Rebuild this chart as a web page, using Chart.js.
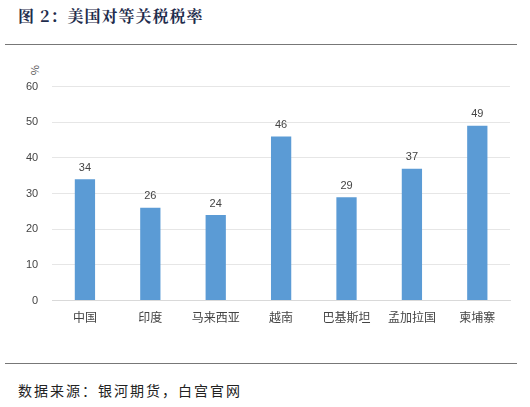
<!DOCTYPE html>
<html><head><meta charset="utf-8">
<script src="https://cdn.jsdelivr.net/npm/chart.js@4"></script>
<style>
body{margin:0;width:530px;height:407px;background:#fff;position:relative;overflow:hidden;font-family:"Noto Sans CJK SC",sans-serif}
#title{position:absolute;left:18px;top:4px;font-size:16px;font-weight:bold;color:#1f2d4d;font-family:"Noto Serif CJK SC","Noto Sans CJK SC",serif;letter-spacing:1px}
.rule{position:absolute;left:5px;width:512px;height:1px;background:#777}
#src{position:absolute;left:18px;top:380px;font-size:14px;color:#222;letter-spacing:2px}
#pct{position:absolute;left:31px;top:62px;font-size:11px;color:#555;transform:rotate(90deg)}
#wrap{position:absolute;left:0;top:66px;width:530px;height:261px}
</style></head><body>
<div id="title">图 2：美国对等关税税率</div>
<div class="rule" style="top:44px"></div>
<div id="pct">%</div>
<div id="wrap"><canvas id="c"></canvas></div>
<div class="rule" style="top:363px"></div>
<div id="src">数据来源：银河期货，白宫官网</div>
<script>
const categories = ['中国','印度','马来西亚','越南','巴基斯坦','孟加拉国','柬埔寨'];
const rates = [34, 26, 24, 46, 29, 37, 49];

const labelPlugin = {
  id: 'labels',
  afterDatasetsDraw(chart) {
    const ctx = chart.ctx;
    const meta = chart.getDatasetMeta(0);
    ctx.save();
    ctx.font = '11px "Liberation Sans", sans-serif';
    ctx.fillStyle = '#444';
    ctx.textAlign = 'center';
    ctx.textBaseline = 'bottom';
    meta.data.forEach((bar, i) => ctx.fillText(rates[i], bar.x, bar.y - 6));
    ctx.restore();
  }
};

new Chart(document.getElementById('c'), {
  type: 'bar',
  data: { labels: categories, datasets: [{ data: rates, backgroundColor: '#5b9bd5', barPercentage: 0.62, categoryPercentage: 0.5 }] },
  options: {
    responsive: true, maintainAspectRatio: false, animation: false,
    layout: { padding: { left: 12, right: 20, top: 20, bottom: 0 } },
    plugins: { legend: { display: false }, tooltip: { enabled: false } },
    scales: {
      x: { grid: { display: false }, border: { color: '#d9d9d9' },
           ticks: { color: '#444', font: { size: 12, family: '"Noto Sans CJK SC"' }, padding: 2 } },
      y: { min: 0, max: 60, ticks: { stepSize: 10, color: '#444', padding: 14, font: { size: 11, family: '"Liberation Sans"' } },
           grid: { color: '#e6e6e6', drawTicks: false }, border: { display: false } }
    }
  },
  plugins: [labelPlugin]
});
</script>
</body></html>
